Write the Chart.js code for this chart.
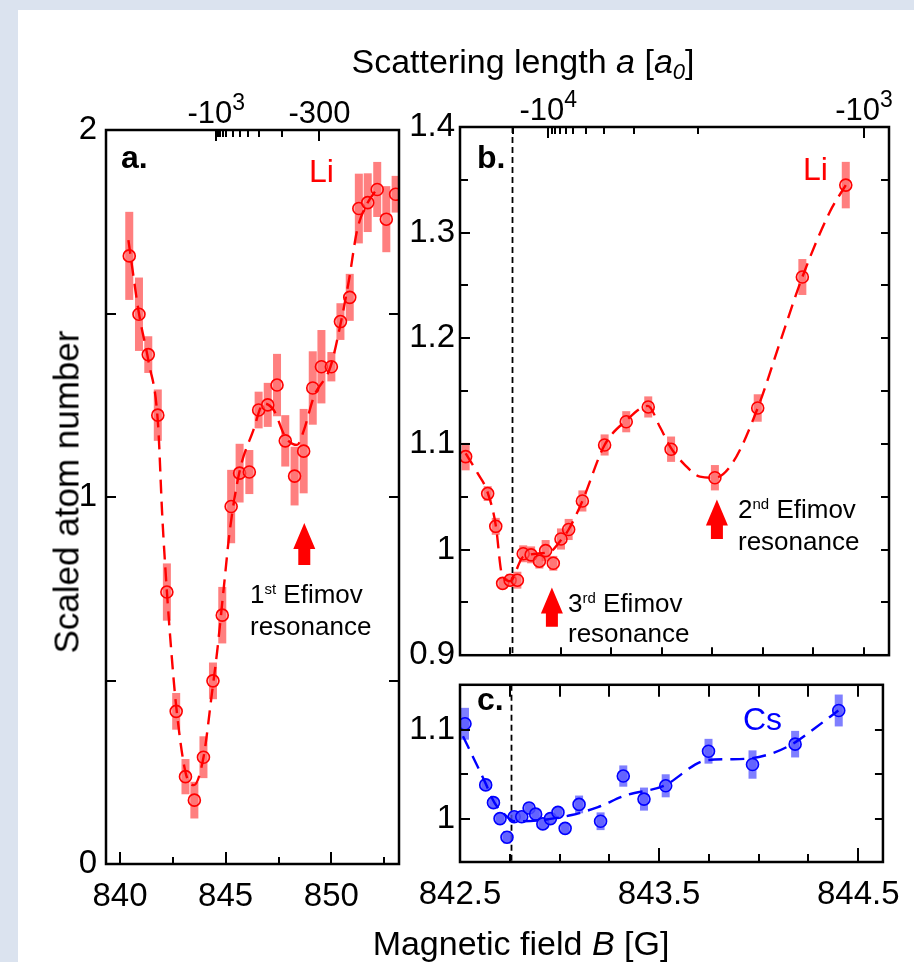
<!DOCTYPE html>
<html><head><meta charset="utf-8">
<script src="https://cdn.jsdelivr.net/npm/chart.js@4.4.0/dist/chart.umd.min.js"></script>
<style>
html,body{margin:0;padding:0;}
body{width:914px;height:962px;background:#dbe3ef;position:relative;overflow:hidden;font-family:"Liberation Sans",Arial,sans-serif;}
#sheet{position:absolute;left:18px;top:10px;width:896px;height:952px;background:#fff;}
.wrap{position:absolute;}
.t{position:absolute;white-space:nowrap;line-height:1;color:#000;}
.sup{font-size:15px;vertical-align:9px;}
</style></head><body>
<div id="sheet"></div>
<div class="wrap" style="left:40px;top:80px;width:372px;height:840px"><canvas id="ca" width="372" height="840"></canvas></div>
<div class="wrap" style="left:400px;top:80px;width:514px;height:600px"><canvas id="cb" width="514" height="600"></canvas></div>
<div class="wrap" style="left:400px;top:660px;width:514px;height:300px"><canvas id="cc" width="514" height="300"></canvas></div>

<div class="t" style="left:523px;top:44px;font-size:34px;transform:translateX(-50%)">Scattering length <i>a</i> [<i>a</i><sub style="font-size:22px;vertical-align:-6px"><i>0</i></sub>]</div>
<div class="t" style="left:521px;top:926px;font-size:34px;transform:translateX(-50%)">Magnetic field <i>B</i> [G]</div>
<div class="t" style="left:66px;top:492px;font-size:35px;transform:translate(-50%,-50%) rotate(-90deg)">Scaled atom number</div>

<div class="t" style="left:121px;top:141px;font-size:32px;font-weight:bold">a.</div>
<div class="t" style="left:477px;top:141px;font-size:32px;font-weight:bold">b.</div>
<div class="t" style="left:477px;top:683px;font-size:32px;font-weight:bold">c.</div>
<div class="t" style="left:309px;top:155px;font-size:32px;color:#ff0000">Li</div>
<div class="t" style="left:803px;top:153px;font-size:32px;color:#ff0000">Li</div>
<div class="t" style="left:743px;top:703px;font-size:32px;color:#0000ff">Cs</div>

<div class="t" style="left:250px;top:581px;font-size:26px">1<span class="sup">st</span> Efimov</div>
<div class="t" style="left:250px;top:613px;font-size:26px">resonance</div>
<div class="t" style="left:568px;top:590px;font-size:26px">3<span class="sup">rd</span> Efimov</div>
<div class="t" style="left:568px;top:620px;font-size:26px">resonance</div>
<div class="t" style="left:738px;top:496px;font-size:26px">2<span class="sup">nd</span> Efimov</div>
<div class="t" style="left:738px;top:528px;font-size:26px">resonance</div>

<script>
const FONT = '"Liberation Sans", Arial, sans-serif';

// ---------- Panel a : Li, wide scan ----------
const liA_B = [840.44,840.90,841.34,841.79,842.22,842.66,843.10,843.52,843.95,844.40,844.84,845.26,845.66,846.12,846.56,846.99,847.43,847.82,848.26,848.69,849.12,849.53,850.00,850.43,850.87,851.30,851.72,852.17,852.60,853.04];
const liA_N = [1.657,1.498,1.388,1.223,0.741,0.416,0.238,0.174,0.291,0.499,0.678,0.974,1.065,1.068,1.237,1.251,1.305,1.153,1.057,1.125,1.297,1.355,1.355,1.478,1.544,1.786,1.802,1.838,1.757,1.825];
const liA_err = [0.12,0.10,0.05,0.07,0.078,0.05,0.048,0.05,0.057,0.05,0.077,0.10,0.08,0.06,0.05,0.06,0.085,0.07,0.08,0.115,0.10,0.10,0.04,0.05,0.064,0.095,0.08,0.075,0.09,0.05];
const fitA_B = [840.40,840.90,841.35,841.80,842.00,842.20,842.45,842.66,843.10,843.50,843.95,844.35,844.60,844.90,845.20,845.66,846.30,846.80,847.27,847.82,848.38,848.69,849.17,849.96,850.43,850.83,851.22,851.70,852.17];
const fitA_N = [1.70,1.50,1.37,1.20,0.95,0.76,0.565,0.43,0.25,0.215,0.29,0.465,0.58,0.746,0.91,1.07,1.18,1.255,1.237,1.164,1.142,1.18,1.273,1.355,1.47,1.59,1.727,1.80,1.84];

// ---------- Panel b : Li, narrow scan ----------
const liB_B = [842.528,842.637,842.677,842.711,842.748,842.784,842.813,842.852,842.893,842.924,842.962,843.000,843.038,843.106,843.216,843.323,843.432,843.545,843.762,843.974,844.195,844.410];
const liB_N = [1.088,1.053,1.022,0.968,0.971,0.971,0.996,0.995,0.989,0.999,0.987,1.010,1.019,1.046,1.099,1.121,1.135,1.095,1.068,1.134,1.258,1.345];
const liB_err = [0.013,0.007,0.008,0.005,0.006,0.008,0.008,0.008,0.007,0.010,0.007,0.010,0.010,0.010,0.010,0.010,0.010,0.012,0.012,0.013,0.017,0.022];
const fitB_B = [842.528,842.585,842.637,842.678,842.706,842.748,842.812,842.946,843.000,843.038,843.106,843.216,843.322,843.430,843.490,843.545,843.614,843.688,843.762,843.853,843.974,844.084,844.195,844.332,844.410];
const fitB_N = [1.091,1.073,1.054,1.022,0.978,0.970,0.993,0.998,1.009,1.019,1.046,1.099,1.122,1.136,1.116,1.096,1.080,1.069,1.068,1.083,1.134,1.196,1.258,1.320,1.345];

// ---------- Panel c : Cs ----------
const csC_B = [842.525,842.629,842.668,842.701,842.736,842.772,842.810,842.847,842.880,842.916,842.954,842.992,843.028,843.098,843.206,843.320,843.424,843.533,843.748,843.969,844.183,844.402];
const csC_N = [1.107,1.038,1.018,1.000,0.979,1.002,1.002,1.012,1.005,0.994,1.000,1.007,0.989,1.016,0.997,1.048,1.022,1.037,1.076,1.061,1.084,1.122];
const csC_err = [0.018,0.006,0.006,0.006,0.007,0.006,0.006,0.006,0.006,0.006,0.006,0.006,0.006,0.010,0.010,0.012,0.013,0.013,0.014,0.016,0.015,0.018];
const fitC_B = [842.515,842.624,842.673,842.727,842.772,842.896,843.061,843.193,843.330,843.523,843.740,843.853,843.960,844.084,844.183,844.282,844.400];
const fitC_N = [1.093,1.042,1.018,1.004,0.997,0.998,1.004,1.013,1.026,1.037,1.066,1.067,1.068,1.075,1.086,1.102,1.122];

// ---------- tick values / labels ----------
const xTicksA = [840,845,850];
const xMinorA = [842.5,847.5,852.5];
const yTicksA = [0,1,2];
const yMinorA = [0.5,1.5];
const yTicksB = [0.9,1,1.1,1.2,1.3,1.4];
const yMinorB = [0.95,1.05,1.15,1.25,1.35];
const yTicksC = [1,1.1];
const yMinorC = [1.05];
const xTicksC = [842.5,843.5,844.5];
const xMinorBC = [842.75,843,843.25,843.75,844,844.25];
// top axis: scattering length a, tick positions expressed in B
const topTicksA = [844.553,844.648,844.743,844.861,845.027,845.359,845.691,846.070,846.591,847.681,849.435];
const topLabelA_at = [844.553,849.435];
const topLabelA_txt = [['-10','3'],['-300','']];
const topTicksB = [842.764,842.937,842.954,842.970,842.995,843.025,843.061,843.124,843.214,843.363,843.680,844.5];
const topLabelB_at = [842.937,844.5];
const topLabelB_txt = [['-10','4'],['-10','3']];
const resonanceB = 842.755;

function pts(xs, ys){ return xs.map((x,i)=>({x:x,y:ys[i]})); }

function makeDecor(cfg){
  return {
    id:'decor',
    beforeDatasetsDraw(chart){
      const {ctx, chartArea:ca} = chart; const x=chart.scales.x, y=chart.scales.y;
      ctx.save();
      ctx.beginPath(); ctx.rect(ca.left, ca.top, ca.right-ca.left, ca.bottom-ca.top); ctx.clip();
      ctx.fillStyle = cfg.errColor;
      cfg.errB.forEach((b,i)=>{
        const px = x.getPixelForValue(b);
        const y1 = y.getPixelForValue(cfg.errN[i]+cfg.errE[i]);
        const y2 = y.getPixelForValue(cfg.errN[i]-cfg.errE[i]);
        ctx.fillRect(px-4, y1, 8, y2-y1);
      });
      if (cfg.vline){
        const px = Math.round(x.getPixelForValue(resonanceB))+0.5;
        ctx.strokeStyle='#000'; ctx.lineWidth=1.8; ctx.setLineDash([6,4]);
        ctx.beginPath(); ctx.moveTo(px, ca.top); ctx.lineTo(px, ca.bottom); ctx.stroke();
        ctx.setLineDash([]);
      }
      ctx.restore();
    },
    afterDatasetsDraw(chart){
      const {ctx, chartArea:ca} = chart; const x=chart.scales.x, y=chart.scales.y;
      ctx.save();
      ctx.fillStyle='#ff0000';
      (cfg.arrows||[]).forEach(a=>{
        const px = x.getPixelForValue(a.B), ty=y.getPixelForValue(a.tip), by=y.getPixelForValue(a.tail);
        const hl = 26, hw = 11, sw = 6;
        ctx.beginPath();
        ctx.moveTo(px, ty); ctx.lineTo(px+hw, ty+hl); ctx.lineTo(px+sw, ty+hl); ctx.lineTo(px+sw, by);
        ctx.lineTo(px-sw, by); ctx.lineTo(px-sw, ty+hl); ctx.lineTo(px-hw, ty+hl); ctx.closePath(); ctx.fill();
      });
      ctx.strokeStyle='#000'; ctx.lineWidth=2;
      const line=(x1,y1,x2,y2)=>{ctx.beginPath();ctx.moveTo(x1,y1);ctx.lineTo(x2,y2);ctx.stroke();};
      const T = cfg.ticks;
      (T.bottom||[]).forEach(([vals,len])=>vals.forEach(v=>{const p=Math.round(x.getPixelForValue(v)); line(p,ca.bottom,p,ca.bottom-len);}));
      (T.top||[]).forEach(([vals,len])=>vals.forEach(v=>{const p=Math.round(x.getPixelForValue(v)); line(p,ca.top,p,ca.top+len);}));
      (T.left||[]).forEach(([vals,len])=>vals.forEach(v=>{const p=Math.round(y.getPixelForValue(v)); line(ca.left,p,ca.left+len,p);}));
      (T.right||[]).forEach(([vals,len])=>vals.forEach(v=>{const p=Math.round(y.getPixelForValue(v)); line(ca.right,p,ca.right-len,p);}));
      ctx.lineWidth=2.5;
      ctx.strokeRect(ca.left, ca.top, ca.right-ca.left, ca.bottom-ca.top);
      (cfg.topAt||[]).forEach((b,i)=>{
        const [base,exp] = cfg.topTxt[i];
        const px = x.getPixelForValue(b);
        ctx.font = '31px '+FONT; const wb = ctx.measureText(base).width;
        ctx.font = '23px '+FONT; const we = exp ? ctx.measureText(exp).width : 0;
        const x0 = px - (wb+we)/2; const bl = ca.top - 7;
        ctx.fillStyle='#000'; ctx.textAlign='left'; ctx.textBaseline='alphabetic';
        ctx.font = '31px '+FONT; ctx.fillText(base, x0, bl);
        if (exp){ ctx.font='23px '+FONT; ctx.fillText(exp, x0+wb, bl-13); }
      });
      ctx.restore();
    }
  };
}

function panel(id, c){
  return new Chart(document.getElementById(id), {
    type:'line',
    data:{datasets:[
      {data:pts(c.fitB,c.fitN), borderColor:c.color, borderWidth:2.4, borderDash:[14,8], pointRadius:0,
       cubicInterpolationMode:'monotone', fill:false, order:1},
      {data:pts(c.B,c.N), showLine:false, pointRadius:6, pointBorderWidth:1.6,
       pointBackgroundColor:c.fill, pointBorderColor:c.color, order:2}
    ]},
    options:{
      responsive:false, animation:false, devicePixelRatio:1,
      layout:{padding:c.pad},
      plugins:{legend:{display:false}, tooltip:{enabled:false}},
      scales:{
        x:{type:'linear', min:c.xmin, max:c.xmax,
           grid:{display:false, drawTicks:false}, border:{display:false},
           ticks:{display:c.xLabels.length>0, autoSkip:false, maxRotation:0, minRotation:0, padding:13,
                  color:'#000', font:{family:FONT, size:33}, callback:v=>String(v)},
           afterBuildTicks:s=>{ s.ticks = (c.xLabels.length?c.xLabels:[c.xmin]).map(v=>({value:v})); },
           afterFit:s=>{ s.height=c.xH; }},
        y:{type:'linear', min:c.ymin, max:c.ymax,
           grid:{display:false, drawTicks:false}, border:{display:false},
           ticks:{autoSkip:false, padding:c.yPad, color:'#000', font:{family:FONT, size:33}, callback:v=>String(v)},
           afterBuildTicks:s=>{ s.ticks = c.yLabels.map(v=>({value:v})); },
           afterFit:s=>{ s.width=c.yW; }}
      }
    },
    plugins:[makeDecor(c.decor)]
  });
}

panel('ca', {
  B:liA_B, N:liA_N, fitB:fitA_B, fitN:fitA_N, color:'#ff0000', fill:'rgba(255,110,110,0.5)',
  pad:{top:50,right:13,left:0,bottom:0}, xmin:839.34, xmax:853.2, ymin:0, ymax:2,
  xLabels:xTicksA, yLabels:yTicksA, xH:56, yW:66, yPad:9,
  decor:{errB:liA_B, errN:liA_N, errE:liA_err, errColor:'rgba(255,0,0,0.5)', vline:false,
    arrows:[{B:848.72, tip:0.929, tail:0.815}],
    ticks:{bottom:[[xTicksA,12],[xMinorA,7]], top:[[[844.553,849.435],11],[topTicksA,7]],
           left:[[yTicksA,10],[yMinorA,10]], right:[[yTicksA,10],[yMinorA,10]]},
    topAt:topLabelA_at, topTxt:topLabelA_txt}
});

panel('cb', {
  B:liB_B, N:liB_N, fitB:fitB_B, fitN:fitB_N, color:'#ff0000', fill:'rgba(255,110,110,0.5)',
  pad:{top:47,right:25,left:0,bottom:0}, xmin:842.5, xmax:844.624, ymin:0.9, ymax:1.4,
  xLabels:[], yLabels:yTicksB, xH:14, yW:60, yPad:5,
  decor:{errB:liB_B, errN:liB_N, errE:liB_err, errColor:'rgba(255,0,0,0.5)', vline:true,
    arrows:[{B:842.955, tip:0.964, tail:0.927},{B:843.772, tip:1.0475, tail:1.010}],
    ticks:{bottom:[[xMinorBC,8],[[843.5,844.5],8]], top:[[[842.937,844.5],11],[topTicksB,7]],
           left:[[yTicksB,10],[yMinorB,8]], right:[[yTicksB,8],[yMinorB,8]]},
    topAt:topLabelB_at, topTxt:topLabelB_txt}
});

panel('cc', {
  B:csC_B, N:csC_N, fitB:fitC_B, fitN:fitC_N, color:'#0000ff', fill:'rgba(90,90,255,0.75)',
  pad:{top:18,right:25,left:0,bottom:0}, xmin:842.5, xmax:844.624, ymin:0.951, ymax:1.151,
  xLabels:xTicksC, yLabels:yTicksC, xH:98, yW:60, yPad:5,
  decor:{errB:csC_B, errN:csC_N, errE:csC_err, errColor:'rgba(0,0,255,0.5)', vline:true,
    arrows:[],
    ticks:{bottom:[[[843.5,844.5],14],[xMinorBC,8]], top:[[xMinorBC,12],[[843.5,844.5],12]],
           left:[[yTicksC,10],[yMinorC,8]], right:[[yTicksC,8],[yMinorC,8]]},
    topAt:[], topTxt:[]}
});
</script>
</body></html>
